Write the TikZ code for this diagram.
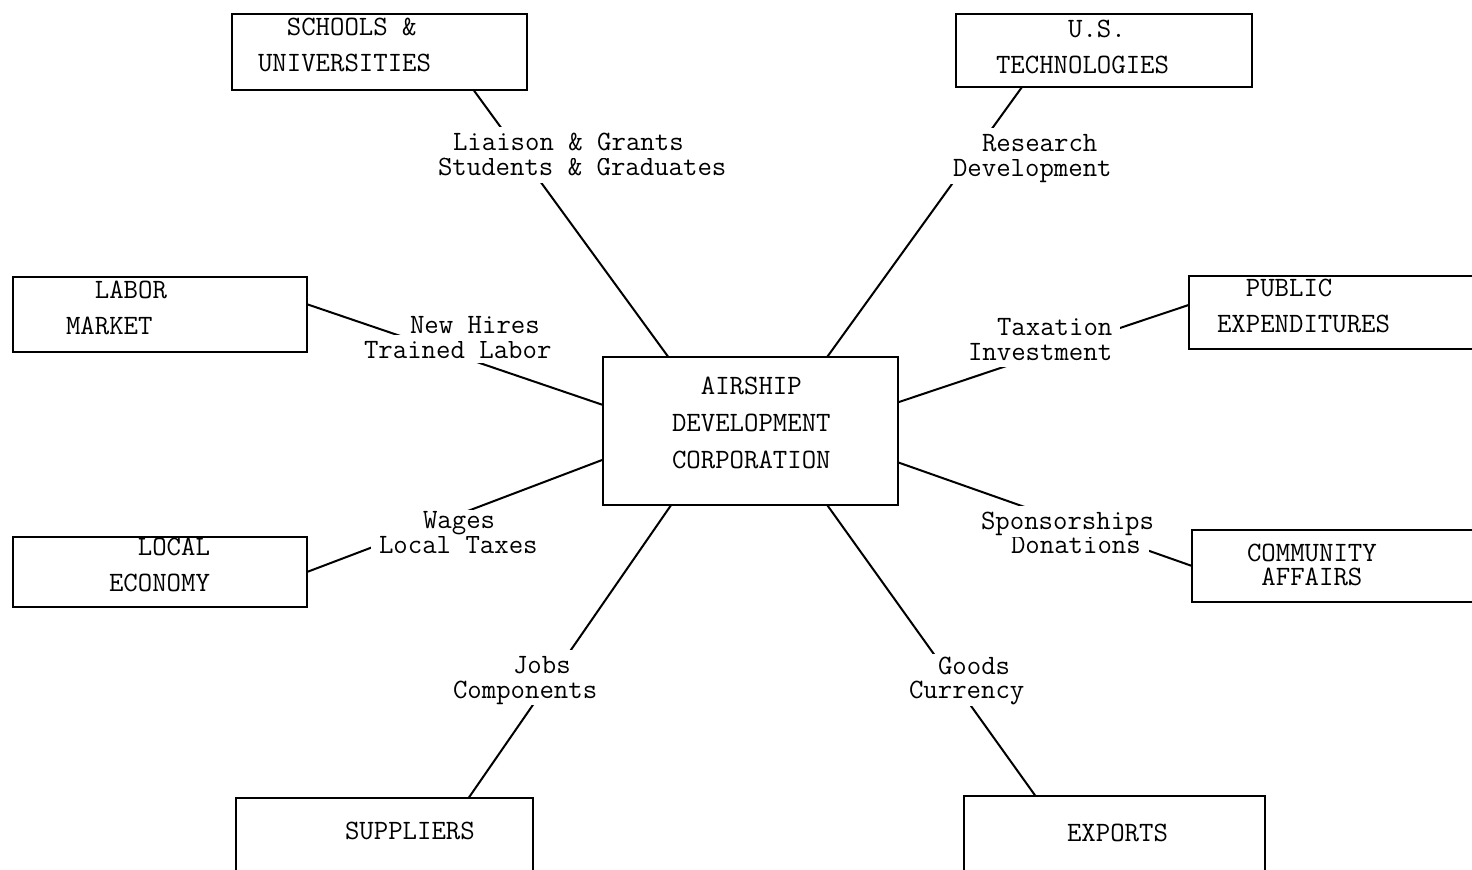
\documentclass[tikz,border=0pt]{standalone}
\usepackage{fontspec}
\usepackage{tikz}

\begin{document}
\begin{tikzpicture}[x=0.5pt,y=0.5pt,yscale=-1,xscale=1,
  box/.style={draw, line width=1.1pt, outer sep=0pt, inner sep=0pt, anchor=north west},
  typed/.style={font=\fontsize{14}{18}\selectfont\ttfamily, inner sep=0pt, align=left, anchor=text},
  tag/.style={font=\fontsize{14}{18}\selectfont\ttfamily, fill=white, inner xsep=4pt, inner ysep=2pt, text height=10pt, text depth=1.5pt, anchor=text},
  link/.style={line width=1pt}]
\useasboundingbox (0,0) rectangle (1472,870);

%Boxes
\node[box, minimum width=147.5pt, minimum height=38pt] (sch) at (232,14) {};
\node[box, minimum width=148pt, minimum height=36.5pt] (ust) at (956,14) {};
\node[box, minimum width=147pt, minimum height=37.5pt] (lab) at (13,277) {};
\node[box, minimum width=147pt, minimum height=35pt] (loc) at (13,537) {};
\node[box, minimum width=145.5pt, minimum height=36.5pt] (pub) at (1189,276) {};
\node[box, minimum width=144pt, minimum height=36pt] (com) at (1192,530) {};
\node[box, minimum width=148.5pt, minimum height=41pt] (sup) at (236,798) {};
\node[box, minimum width=150.5pt, minimum height=42pt] (exp) at (964,796) {};
\node[box, minimum width=147.5pt, minimum height=74pt] (adc) at (603,357) {};

% Text Node (anchored at the last line)
\node[typed] (schT) at (258,72) {~~SCHOOLS \&\\UNIVERSITIES};
\node[typed] (ustT) at (996,74) {~~~~~U.S.\\TECHNOLOGIES};
\node[typed] (labT) at (66,335) {~~LABOR\\MARKET};
\node[typed] (locT) at (109,592) {~~LOCAL\\ECONOMY};
\node[typed] (pubT) at (1217,333) {~~PUBLIC\\EXPENDITURES};
\node[typed, font=\fontsize{14}{12}\selectfont\ttfamily] (comT) at (1247,586) {COMMUNITY\\~AFFAIRS};
\node[typed] (supT) at (345,839) {SUPPLIERS};
\node[typed] (expT) at (1067,841) {EXPORTS};
\node[typed, font=\fontsize{14}{18.5}\selectfont\ttfamily] (adcT) at (672,469) {~~AIRSHIP\\DEVELOPMENT\\CORPORATION};

%Straight Lines
\draw[link] (sch.-22) -- (adc.138);
\draw[link] (ust.204) -- (adc.44);
\draw[link] (lab.4) -- (adc.170);
\draw[link] (loc.0) -- (adc.191);
\draw[link] (pub.177) -- (adc.11);
\draw[link] (com.west) -- (adc.-12);
\draw[link] (sup.26) -- (adc.223);
\draw[link] (exp.152) -- (adc.-44);

% Text Node (lower line first, the upper one over it)
\node[tag] (lia2) at (438,176) {Students \& Graduates};
\node[tag] (lia1) at (453,151) {Liaison \& Grants};
\node[tag] (res2) at (953,177) {Development};
\node[tag, inner xsep=6pt] (res1) at (982,152) {Research};
\node[tag, text depth=0pt] (hir2) at (364,359) {Trained Labor};
\node[tag] (hir1) at (410,334) {New Hires};
\node[tag, text depth=1pt] (tax2) at (968,361) {Investment};
\node[tag] (tax1) at (997,336) {Taxation};
\node[tag] (wag2) at (379,554) {Local Taxes};
\node[tag, text height=7.5pt] (wag1) at (423,529) {Wages};
\node[tag] (spo2) at (1011,554) {Donations};
\node[tag] (spo1) at (981,530) {Sponsorships};
\node[tag] (job2) at (453,698) {Components};
\node[tag] (job1) at (513,674) {Jobs};
\node[tag] (goo2) at (909,699) {Currency};
\node[tag, text height=8.5pt] (goo1) at (938,675) {Goods};

\end{tikzpicture}
\end{document}
